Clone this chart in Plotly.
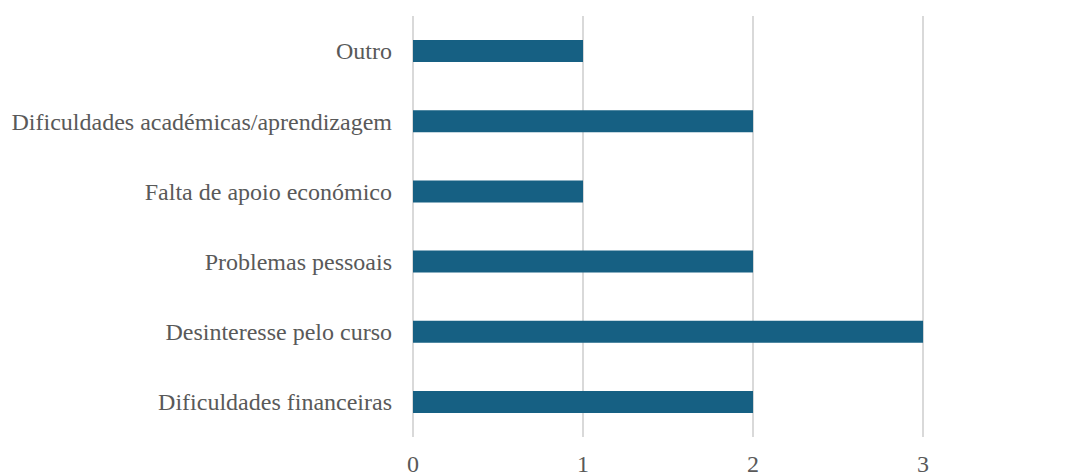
import plotly.graph_objects as go

# Reasons listed bottom-to-top as they appear on the axis
categories = [
    "Dificuldades financeiras",
    "Desinteresse pelo curso",
    "Problemas pessoais",
    "Falta de apoio económico",
    "Dificuldades académicas/aprendizagem",
    "Outro",
]
counts = [2, 3, 2, 1, 2, 1]
x_ticks = [0, 1, 2, 3, 4]

text_color = "#595959"
grid_color = "#d9d9d9"
bar_color = "#166083"
font_family = "Liberation Serif, Times New Roman, serif"

fig = go.Figure(
    go.Bar(
        x=counts,
        y=categories,
        orientation="h",
        marker=dict(color=bar_color, line=dict(width=0)),
        hoverinfo="x+y",
    )
)

fig.update_layout(
    width=1089,
    height=475,
    margin=dict(l=413, r=0, t=16, b=38),
    plot_bgcolor="white",
    paper_bgcolor="white",
    bargap=0.687,
    showlegend=False,
    font=dict(family=font_family, size=24, color=text_color),
)

fig.update_xaxes(
    range=[0, 3.976],
    tickvals=x_ticks,
    ticktext=[str(v) for v in x_ticks],
    showgrid=True,
    gridcolor=grid_color,
    gridwidth=2,
    zeroline=True,
    zerolinecolor=grid_color,
    zerolinewidth=2,
    showline=False,
    ticks="",
    ticklabelstandoff=10,
    automargin=False,
    tickfont=dict(family=font_family, size=24, color=text_color),
)

fig.update_yaxes(
    categoryorder="array",
    categoryarray=categories,
    range=[-0.5, 5.5],
    showgrid=False,
    zeroline=False,
    showline=False,
    ticks="",
    ticklabelstandoff=20,
    automargin=False,
    tickfont=dict(family=font_family, size=24, color=text_color),
)

# Last tick label sits just past the right edge of the plot area
fig.add_annotation(
    x=x_ticks[-1],
    xref="x",
    y=0,
    yref="paper",
    yanchor="top",
    yshift=-10,
    text=str(x_ticks[-1]),
    showarrow=False,
    font=dict(family=font_family, size=24, color=text_color),
)

fig.write_html("out.html")
